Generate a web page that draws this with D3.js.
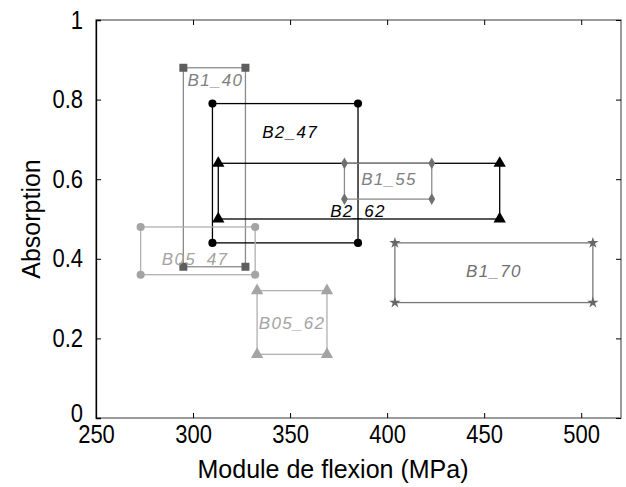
<!DOCTYPE html>
<meta charset="utf-8">
<title>Absorption vs module de flexion</title>
<style>
  body { margin: 0; background: #fff; }
  text { font-family: "Liberation Sans", Arial, sans-serif; }
  .tick text { font-size: 22px; fill: #000; }
  .tick line { stroke: #000; }
  .lbl { font-size: 17px; font-style: italic; letter-spacing: 1.3px; }
</style>
<svg width="626" height="487"></svg>
<script src="https://cdnjs.cloudflare.com/ajax/libs/d3/7.8.5/d3.min.js"></script>
<script>

  // one rectangle per formulation: flexural modulus range x absorption range
  var names   = ["B1_40", "B2_47", "B2_62", "B1_55", "B05_47", "B05_62", "B1_70"],
      modLo   = [295, 310, 313, 378, 273, 333, 404],
      modHi   = [327, 385, 458, 423, 332, 369, 506],
      absLo   = [0.38, 0.44, 0.50, 0.55, 0.36, 0.16, 0.29],
      absHi   = [0.88, 0.79, 0.64, 0.64, 0.48, 0.32, 0.44],
      labMod  = [311.5, 350, 385, 401, 301, 351, 455],
      labAbs  = [0.85, 0.72, 0.52, 0.60, 0.40, 0.24, 0.37];

  var xTicks = [250, 300, 350, 400, 450, 500],
      yTicks = [0, 0.2, 0.4, 0.6, 0.8, 1],
      yTickLabels = ["0", "0.2", "0.4", "0.6", "0.8", "1"];

  // looks per series
  var style = {
    "B1_40":  { line: "#8a8a8a", mark: "#5e5e5e", text: "#808080", sym: d3.symbolSquare,   size: 64 },
    "B2_47":  { line: "#000",    mark: "#000",    text: "#000",    sym: d3.symbolCircle,   size: 52 },
    "B2_62":  { line: "#000",    mark: "#000",    text: "#000",    sym: d3.symbolTriangle, size: 66 },
    "B1_55":  { line: "#8c8c8c", mark: "#707070", text: "#808080", sym: d3.symbolDiamond,  size: 40 },
    "B05_47": { line: "#b0b0b0", mark: "#a4a4a4", text: "#a4a4a4", sym: d3.symbolCircle,   size: 52 },
    "B05_62": { line: "#b0b0b0", mark: "#a4a4a4", text: "#a4a4a4", sym: d3.symbolTriangle, size: 66 },
    "B1_70":  { line: "#777",    mark: "#666",    text: "#707070", sym: d3.symbolStar,     size: 40 }
  };

  var svg = d3.select("svg"),
      pl = 96, pr = 621, pt = 20, pb = 418,
      stretch = 1.15; // tick digits look a bit taller than wide in the original

  var x = d3.scaleLinear().domain([250, 520.5]).range([pl, pr]);
  var y = d3.scaleLinear().domain([0, 1]).range([pb, pt]);

  // frame
  svg.append("rect")
      .attr("x", pl).attr("y", pt)
      .attr("width", pr - pl).attr("height", pb - pt)
      .attr("fill", "none").attr("stroke", "#666").attr("stroke-width", 1.3);

  var boxes = names.map(function(n, i) {
    return { name: n, x0: modLo[i], x1: modHi[i], y0: absLo[i], y1: absHi[i], lx: labMod[i], ly: labAbs[i] };
  });

  var g = svg.selectAll("g.box").data(boxes).enter().append("g").attr("class", "box");

  g.append("rect")
      .attr("x", function(d) { return x(d.x0); })
      .attr("y", function(d) { return y(d.y1); })
      .attr("width", function(d) { return x(d.x1) - x(d.x0); })
      .attr("height", function(d) { return y(d.y0) - y(d.y1); })
      .attr("fill", "none")
      .attr("stroke", function(d) { return style[d.name].line; })
      .attr("stroke-width", 1.3);

  g.selectAll("path")
      .data(function(d) {
        return [[d.x0, d.y0], [d.x1, d.y0], [d.x0, d.y1], [d.x1, d.y1]].map(function(p) {
          return { name: d.name, x: p[0], y: p[1] };
        });
      })
      .enter().append("path")
      .attr("transform", function(d) { return "translate(" + x(d.x) + "," + y(d.y) + ")"; })
      .attr("d", function(d) { return d3.symbol().type(style[d.name].sym).size(style[d.name].size)(); })
      .attr("fill", function(d) { return style[d.name].mark; });

  g.append("text")
      .attr("class", "lbl")
      .attr("x", function(d) { return x(d.lx); })
      .attr("y", function(d) { return y(d.ly); })
      .attr("dy", "0.36em")
      .attr("text-anchor", "middle")
      .attr("fill", function(d) { return style[d.name].text; })
      .text(function(d) { return d.name; });

  // axes, ticks pointing inward
  var ax = svg.append("g")
      .attr("transform", "translate(0," + pb + ")")
      .call(d3.axisBottom(x).tickValues(xTicks).tickSize(-5).tickFormat(d3.format("d")));
  ax.select(".domain").remove();
  ax.selectAll(".tick text")
      .attr("y", 25 / stretch).attr("dy", 0)
      .attr("transform", "scale(1," + stretch + ")");

  svg.append("g")
      .attr("transform", "translate(0," + pt + ")")
      .call(d3.axisTop(x).tickValues(xTicks).tickSize(-5).tickFormat(""))
      .select(".domain").remove();

  var ay = svg.append("g")
      .attr("transform", "translate(" + pl + ",0)")
      .call(d3.axisLeft(y).tickValues(yTicks).tickSize(-5).tickPadding(13)
        .tickFormat(function(d, i) { return yTickLabels[i]; }));
  ay.select(".domain").attr("stroke", "#000").attr("stroke-width", 1.3);
  ay.selectAll(".tick text").attr("transform", "scale(1," + stretch + ")");
  ay.selectAll(".tick text").filter(function(d) { return d === 0; }).attr("dy", "0.15em");

  svg.append("g")
      .attr("transform", "translate(" + pr + ",0)")
      .call(d3.axisRight(y).tickValues(yTicks).tickSize(-5).tickFormat(""))
      .select(".domain").remove();

  svg.append("text")
      .attr("x", 333)
      .attr("y", 478)
      .attr("text-anchor", "middle")
      .attr("font-size", "25px")
      .text("Module de flexion (MPa)");

  svg.append("text")
      .attr("transform", "translate(40," + (pt + pb) / 2 + ") rotate(-90)")
      .attr("text-anchor", "middle")
      .attr("font-size", "25px")
      .text("Absorption");

</script>
